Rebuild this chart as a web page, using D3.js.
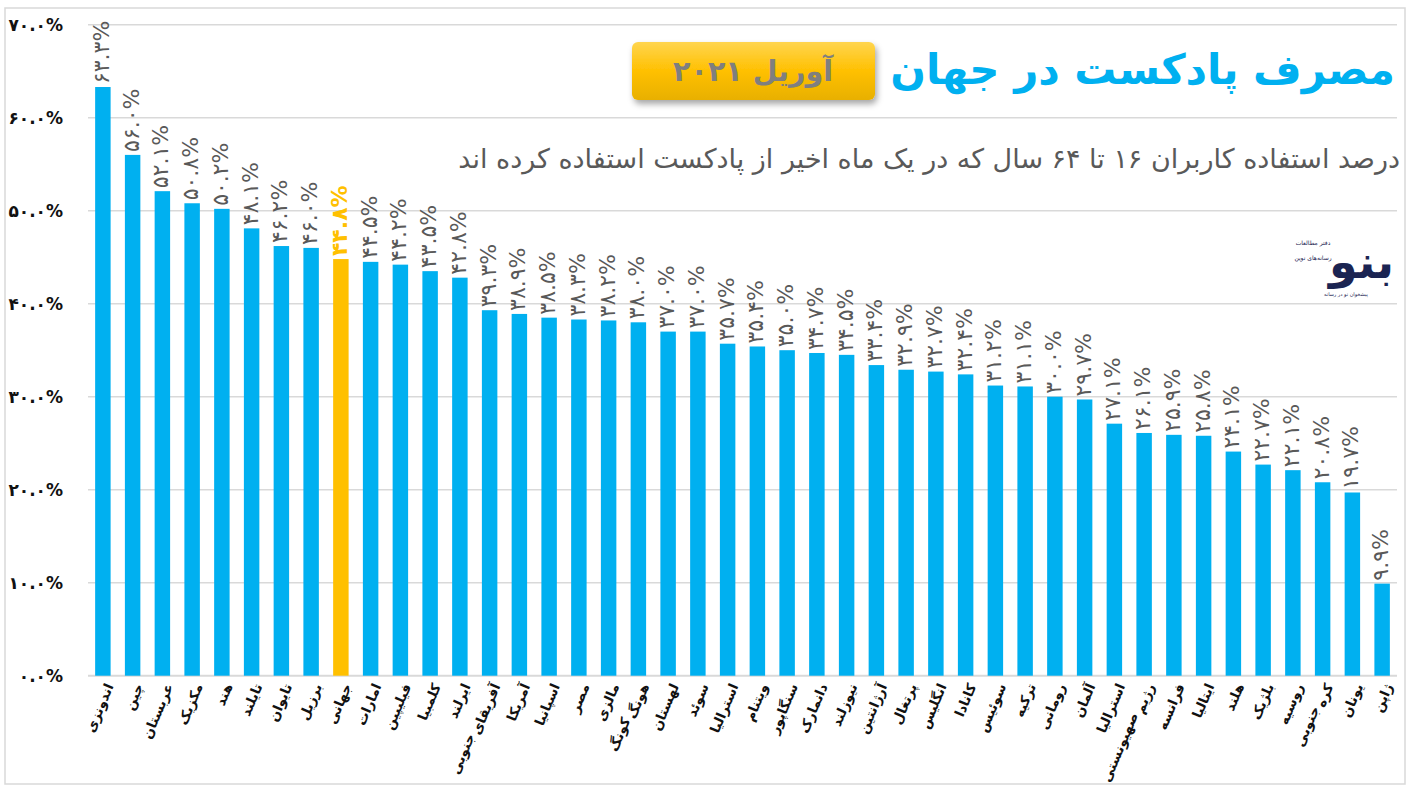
<!DOCTYPE html>
<html>
<head>
<meta charset="utf-8">
<script src="https://cdn.jsdelivr.net/npm/d3@7"></script>
<style>
  body { margin: 0; background: #fff; }
  svg { display: block; font-family: "DejaVu Sans", sans-serif; }
</style>
</head>
<body>
<svg id="chart" width="1410" height="787"></svg>
<script>
let width = 1410,
  height = 787;

// data
let countries = ["اندونزی", "چین", "عربستان", "مکزیک", "هند", "تایلند", "تایوان", "برزیل", "جهانی",
  "امارات", "فیلیپین", "کلمبیا", "ایرلند", "آفریقای جنوبی", "آمریکا", "اسپانیا", "مصر", "مالزی",
  "هونگ کونگ", "لهستان", "سوئد", "استرالیا", "ویتنام", "سنگاپور", "دانمارک", "نیوزلند", "آرژانتین",
  "پرتغال", "انگلیس", "کانادا", "سوئیس", "ترکیه", "رومانی", "آلمان", "استرالیا", "رژیم صهیونستی",
  "فرانسه", "ایتالیا", "هلند", "بلژیک", "روسیه", "کره جنوبی", "یونان", "ژاپن"]
let usage = [63.3, 56.0, 52.1, 50.8, 50.2, 48.1, 46.2, 46.0, 44.8,
  44.5, 44.2, 43.5, 42.8, 39.3, 38.9, 38.5, 38.3, 38.2,
  38.0, 37.0, 37.0, 35.7, 35.4, 35.0, 34.7, 34.5, 33.4,
  32.9, 32.7, 32.4, 31.2, 31.1, 30.0, 29.7, 27.1, 26.1,
  25.9, 25.8, 24.1, 22.7, 22.1, 20.8, 19.7, 9.9]
let highlight = "جهانی"
let y_ticks = [0, 10, 20, 30, 40, 50, 60, 70]

let title = "مصرف پادکست در جهان"
let badge_text = "آوریل ۲۰۲۱"
let subtitle = "درصد استفاده کاربران ۱۶ تا ۶۴ سال که در یک ماه اخیر از پادکست استفاده کرده اند"

function fa(s) {
  return String(s).replace(/[0-9]/g, d => "۰۱۲۳۴۵۶۷۸۹"[+d])
}

// shrink/grow a text until it is the given width
function fit(sel, w) {
  let size = +sel.attr("font-size")
  let len = sel.node().getComputedTextLength()
  sel.attr("font-size", size * w / len)
}

let data = countries.map((c, i) => ({ name: c, value: usage[i], idx: i }))

let scales = {
  x: d3.scaleBand()
    .domain(data.map(d => d.idx))
    .range([88, 1397])
    .paddingInner(0.48)
    .paddingOuter(0.24),
  y: d3.scaleLinear()
    .domain([0, 70])
    .range([675.7, 24.7])
}

let svg = d3.select("#chart")

// frame
svg.append("rect")
  .attr("x", 5).attr("y", 8)
  .attr("width", 1400).attr("height", 776)
  .attr("fill", "#fff")
  .attr("stroke", "#d9d9d9")
  .attr("stroke-width", 1.5)

// grid
svg.append("g")
  .selectAll("line")
  .data(y_ticks).enter()
  .append("line")
  .attr("x1", 88).attr("x2", 1397)
  .attr("y1", d => scales.y(d)).attr("y2", d => scales.y(d))
  .attr("stroke", "#d9d9d9")
  .attr("stroke-width", d => d == 0 ? 2 : 1.5)

// y axis labels
let y_axis = d3.axisLeft(scales.y)
  .tickValues(y_ticks)
  .tickSize(0)
  .tickPadding(0)
  .tickFormat(d => fa(d.toFixed(1)) + "%")

svg.append("g")
  .attr("transform", "translate(63,0)")
  .call(y_axis)
  .call(g => g.select(".domain").remove())
  .selectAll("text")
  .attr("font-family", "DejaVu Sans")
  .attr("font-weight", "bold")
  .attr("font-size", 17)
  .attr("fill", "#111")

// bars
svg.append("g")
  .selectAll("rect")
  .data(data).enter()
  .append("rect")
  .attr("x", d => scales.x(d.idx))
  .attr("y", d => scales.y(d.value))
  .attr("width", scales.x.bandwidth())
  .attr("height", d => scales.y(0) - scales.y(d.value))
  .attr("fill", d => d.name == highlight ? "#ffc000" : "#00b0f0")

// value labels
svg.append("g")
  .selectAll("text")
  .data(data).enter()
  .append("text")
  .attr("transform", d => `translate(${scales.x(d.idx) + scales.x.bandwidth() / 2 + 6},${scales.y(d.value) - 3}) rotate(-90)`)
  .attr("text-anchor", "start")
  .attr("font-size", 22)
  .attr("font-weight", d => d.name == highlight ? "bold" : "normal")
  .attr("fill", d => d.name == highlight ? "#ffc000" : "#595959")
  .text(d => fa(d.value.toFixed(1)) + "%")

// category labels, two-word names carry on in a second piece
let cat = svg.append("g")
  .selectAll("g")
  .data(data).enter()
  .append("g")
  .attr("transform", d => `translate(${scales.x(d.idx) + scales.x.bandwidth() / 2 + 11},${686}) rotate(-67)`)
  .attr("font-size", 13.5)
  .attr("font-weight", "bold")
  .attr("fill", "#111")

cat.each(function (d) {
  let g = d3.select(this)
  let words = d.name.split(" ")
  let first = g.append("text")
    .attr("text-anchor", "end")
    .text(words[0])
  if (words.length > 1) {
    let w = first.node().getComputedTextLength()
    g.append("text")
      .attr("text-anchor", "end")
      .attr("x", -w - 2)
      .attr("y", -4)
      .text(words.slice(1).join(" "))
  }
})

// title block
let defs = svg.append("defs")
let grad = defs.append("linearGradient")
  .attr("id", "badge").attr("x1", 0).attr("y1", 0).attr("x2", 0).attr("y2", 1)
grad.append("stop").attr("offset", "0%").attr("stop-color", "#ffd54f")
grad.append("stop").attr("offset", "50%").attr("stop-color", "#ffc000")
grad.append("stop").attr("offset", "100%").attr("stop-color", "#e8b000")
let shadow = defs.append("filter").attr("id", "shadow")
  .attr("x", "-10%").attr("y", "-20%").attr("width", "130%").attr("height", "160%")
shadow.append("feDropShadow")
  .attr("dx", 2).attr("dy", 4).attr("stdDeviation", 3)
  .attr("flood-color", "#000").attr("flood-opacity", 0.35)

svg.append("rect")
  .attr("x", 632).attr("y", 42)
  .attr("width", 243).attr("height", 58)
  .attr("rx", 6)
  .attr("fill", "url(#badge)")
  .attr("filter", "url(#shadow)")

svg.append("text")
  .attr("x", 753).attr("y", 81)
  .attr("text-anchor", "middle")
  .attr("font-size", 28)
  .attr("font-weight", "bold")
  .attr("fill", "#7f7f7f")
  .text(badge_text)
  .call(fit, 160)

svg.append("text")
  .attr("x", 1395).attr("y", 84)
  .attr("text-anchor", "end")
  .attr("font-size", 46)
  .attr("font-weight", "bold")
  .attr("fill", "#00b0f0")
  .text(title)
  .call(fit, 505)

svg.append("text")
  .attr("x", 1400).attr("y", 168)
  .attr("text-anchor", "end")
  .attr("font-size", 22)
  .attr("fill", "#595959")
  .text(subtitle)
  .call(fit, 942)

// logo
let logo = svg.append("g").attr("fill", "#1b2452")
logo.append("rect")
  .attr("x", 1296).attr("y", 214).attr("width", 100).attr("height", 86)
  .attr("fill", "#fff")
logo.append("text")
  .attr("x", 1394).attr("y", 278)
  .attr("text-anchor", "end")
  .attr("font-size", 46)
  .attr("font-weight", "bold")
  .text("بنو")
logo.append("text")
  .attr("x", 1313).attr("y", 245)
  .attr("text-anchor", "middle")
  .attr("font-size", 6)
  .text("دفتر مطالعات")
logo.append("text")
  .attr("x", 1313).attr("y", 260)
  .attr("text-anchor", "middle")
  .attr("font-size", 6)
  .text("رسانه‌های نوین")
logo.append("text")
  .attr("x", 1346).attr("y", 296)
  .attr("text-anchor", "middle")
  .attr("font-size", 5)
  .text("پیشخوان نو در رسانه")
</script>
</body>
</html>
